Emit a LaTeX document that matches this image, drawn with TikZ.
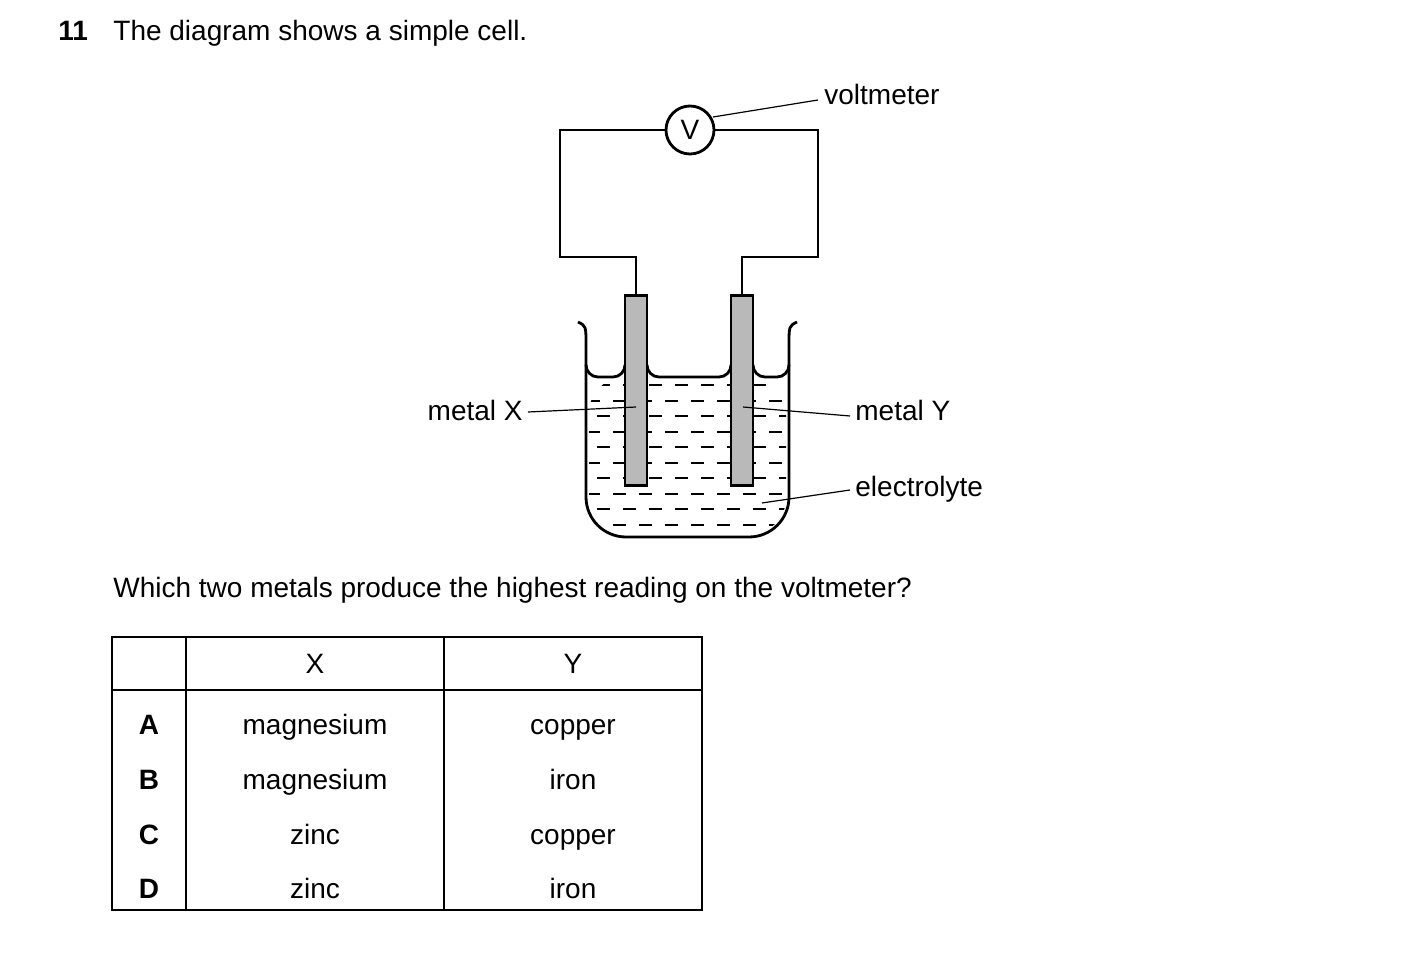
\documentclass[tikz,border=0pt]{standalone}
\usepackage{fontspec}
\setmainfont{Liberation Sans}
\begin{document}
\begin{tikzpicture}[x=0.5pt,y=-0.5pt,
  txt/.style={font=\fontsize{14}{16}\selectfont,inner sep=0pt},
  w/.style={line width=1.4pt},
  lead/.style={line width=0.6pt}]
\useasboundingbox (0,0) rectangle (1403,962);
% title
\node[txt,anchor=base west,font=\fontsize{14}{16}\selectfont\bfseries] (n) at (58,41) {11};
\node[txt,anchor=base west] (t) at (113,41) {The diagram shows a simple cell.};
% liquid dashes
\begin{scope}
\clip[rounded corners=18] (589,377) -- (589,534) -- (786,534) -- (786,377) -- cycle;
\foreach \y [count=\i] in {385,401,416,432,447,463,478,494,509,525}{
  \pgfmathsetmacro{\off}{mod(\i,2)==1 ? 597 : 587}
  \foreach \k in {0,...,8}{
    \draw[line width=0.6pt] ({\off+26*\k},\y) -- ({\off+26*\k+13},\y);
  }
}
\end{scope}
% beaker
\draw[w] (578,322) .. controls (586,326) .. (586,345);
\draw[w,rounded corners=20] (586,345) -- (586,537) -- (789,537) -- (789,345);
\draw[w] (789,345) .. controls (789,326) .. (797,322);
\draw[w,rounded corners=6] (586,366) -- (586,377) -- (625,377) -- (625,366);
\draw[w,rounded corners=6] (647,366) -- (647,377) -- (731,377) -- (731,366);
\draw[w,rounded corners=6] (753,366) -- (753,377) -- (789,377) -- (789,366);
% electrodes
\node[draw,w,fill=gray!55,minimum width=11pt,minimum height=95pt,inner sep=0pt,anchor=north] (ex) at (636,294) {};
\node[draw,w,fill=gray!55,minimum width=11pt,minimum height=95pt,inner sep=0pt,anchor=north] (ey) at (742,294) {};
% voltmeter and circuit
\node[draw,w,circle,minimum size=24pt,inner sep=0pt,txt] (v) at (690,130) {V};
\draw[w] (ex.north) -- (636,257) -- (560,257) -- (560,130) -- (v.west);
\draw[w] (ey.north) -- (742,257) -- (818,257) -- (818,130) -- (v.east);
% labels
\node[txt,anchor=base west] (lv) at (824,105) {voltmeter};
\node[txt,anchor=base east] (lx) at (523,421) {metal X};
\node[txt,anchor=base west] (ly) at (855,421) {metal Y};
\node[txt,anchor=base west] (le) at (855,496) {electrolyte};
\coordinate (pv) at (713,117);
\coordinate (px) at (636,407);
\coordinate (py) at (743,407);
\coordinate (pe) at (762,503);
\draw[lead] (pv) -- (818,100);
\draw[lead] (px) -- (528,412);
\draw[lead] (py) -- (850,416);
\draw[lead] (pe) -- (850,490);
% question
\node[txt,anchor=base west] (q) at (113,597) {Which two metals produce the highest reading on the voltmeter?};
% table
\draw[line width=0.8pt] (112,637) rectangle (702,910);
\draw[line width=0.8pt] (112,690) -- (702,690);
\draw[line width=0.8pt] (186,637) -- (186,910);
\draw[line width=0.8pt] (444,637) -- (444,910);
\node[txt,anchor=base] (hx) at (315,673) {X};
\node[txt,anchor=base] (hy) at (573,673) {Y};
\foreach \l/\a/\b/\y in {A/magnesium/copper/734,B/magnesium/iron/789,C/zinc/copper/844,D/zinc/iron/898}{
  \node[txt,anchor=base,font=\fontsize{14}{16}\selectfont\bfseries] (r\l) at (149,\y) {\l};
  \node[txt,anchor=base] (x\l) at (315,\y) {\a};
  \node[txt,anchor=base] (y\l) at (573,\y) {\b};
}
\end{tikzpicture}
\end{document}
